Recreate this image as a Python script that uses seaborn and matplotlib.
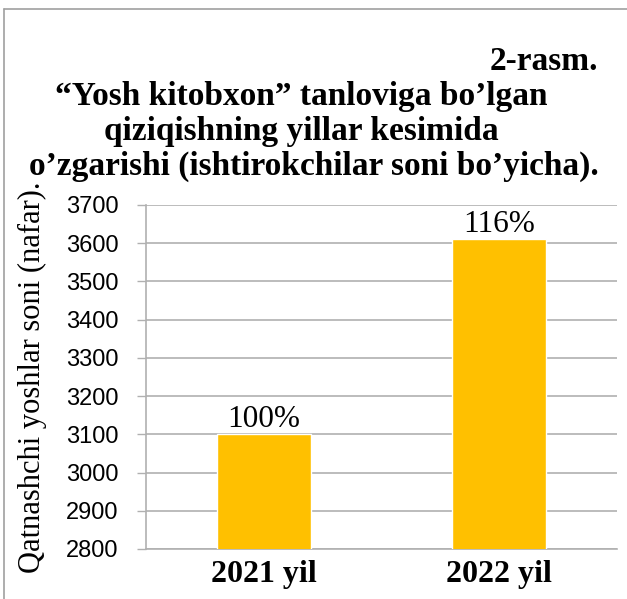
import seaborn as sns
import matplotlib.pyplot as plt
from matplotlib.lines import Line2D

# data
years = ["2021 yil", "2022 yil"]
counts = [3100, 3610]
pct_labels = ["100%", "116%"]
y_ticks = [2800, 2900, 3000, 3100, 3200, 3300, 3400, 3500, 3600, 3700]

sns.set_style("white")
plt.rcParams["text.color"] = "black"
plt.rcParams["xtick.color"] = "black"
plt.rcParams["ytick.color"] = "black"
plt.rcParams["axes.labelcolor"] = "black"
serif = "Liberation Serif"
grid_gray = "#B0B0B0"

fig = plt.figure(figsize=(6.27, 5.99), dpi=100)
ax = fig.add_axes([0.233, 0.0835, 0.751, 0.5743])

sns.barplot(x=years, y=counts, color="#FFC000", width=0.4, saturation=1, ax=ax, zorder=3)

ax.set_ylim(2800, 3700)
ax.set_yticks(y_ticks)
ax.yaxis.grid(True, color=grid_gray, linewidth=1.2, zorder=0)
ax.set_axisbelow(True)

for side in ["top", "right"]:
    ax.spines[side].set_visible(False)
ax.spines["left"].set_color(grid_gray)
ax.spines["bottom"].set_color(grid_gray)
ax.spines["left"].set_linewidth(1.2)
ax.spines["bottom"].set_linewidth(1.2)

ax.tick_params(axis="y", length=6.5, width=1, color=grid_gray, labelcolor="black", pad=13.5, left=True)
ax.tick_params(axis="x", length=0, pad=8, labelcolor="black")
for lab in ax.get_yticklabels():
    lab.set_fontfamily("Liberation Sans")
    lab.set_fontsize(17)
for lab in ax.get_xticklabels():
    lab.set_fontfamily(serif)
    lab.set_fontweight("bold")
    lab.set_fontsize(23)

ax.set_xlabel("")
ax.set_ylabel("Qatnashchi yoshlar soni (nafar).", family=serif, fontsize=22, color="black")
ax.yaxis.set_label_coords(-0.21, 0.5)

ax.bar_label(ax.containers[0], labels=pct_labels, family=serif, fontsize=22.5, padding=0, color="black")

# title block
fig.text(0.954, 0.883, "2-rasm.", ha="right", va="baseline", family=serif,
         fontweight="bold", fontsize=24, color="black")
title_lines = ["“Yosh kitobxon” tanloviga bo’lgan",
               "qiziqishning yillar kesimida",
               "o’zgarishi (ishtirokchilar soni bo’yicha)."]
title_x = [0.480, 0.480, 0.501]
title_y = [0.8247, 0.7663, 0.7078]
for txt, tx, ty in zip(title_lines, title_x, title_y):
    fig.text(tx, ty, txt, ha="center", va="baseline", family=serif,
             fontweight="bold", fontsize=24, color="black")

# frame of the original picture (top and left edges only)
fig.add_artist(Line2D([4 / 627, 1], [1 - 9 / 599, 1 - 9 / 599], color="#A0A0A0", linewidth=1.2))
fig.add_artist(Line2D([4 / 627, 4 / 627], [0, 1 - 9 / 599], color="#A0A0A0", linewidth=1.2))

fig.savefig("out.png", dpi=100)
